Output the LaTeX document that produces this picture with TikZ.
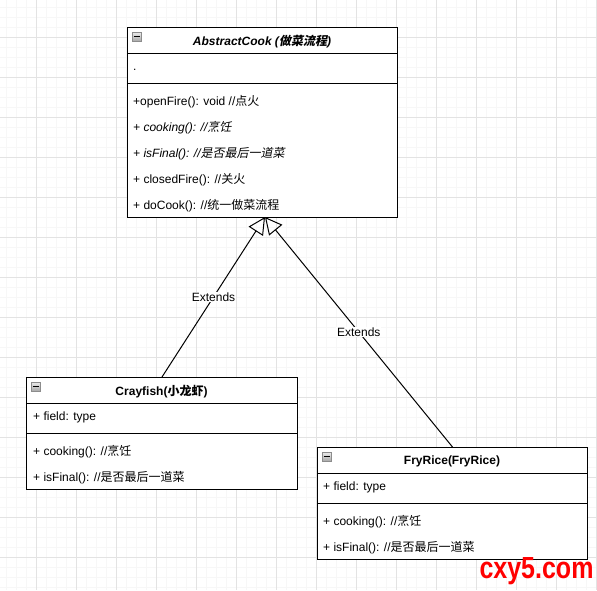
\documentclass[tikz,border=0pt]{standalone}
\usepackage{fontspec}
\usepackage{graphicx}
\setmainfont{Liberation Sans}
\newfontfamily\cjk{Noto Sans CJK SC}
\newfontfamily\cjkit{Noto Sans CJK SC}[FakeSlant=0.2]
\usetikzlibrary{arrows.meta,calc}
\begin{document}
\begin{tikzpicture}[x=1pt,y=-1pt,
  classbox/.style={draw=black,line width=1pt,fill=white,inner sep=0pt,anchor=north west,rectangle},
  sep/.style={draw=black,line width=1pt},
  mem/.style={anchor=west,inner sep=0pt,yshift=-1.5pt,font=\fontsize{12}{14}\selectfont},
  title/.style={anchor=center,inner sep=0pt,yshift=-1.5pt,font=\fontsize{12}{14}\selectfont\bfseries},
  icon/.style={draw=black!45,line width=0.6pt,top color=black!8,bottom color=black!35,minimum width=9pt,minimum height=9pt,inner sep=0pt,anchor=north west,rectangle},
  ext/.style={draw=black,line width=1pt,-{Triangle[open,length=17pt,width=17pt]}},
  lbl/.style={fill=white,inner sep=1pt,font=\fontsize{12}{14}\selectfont},
  minorgrid/.style={draw=black!3,line width=0.8pt},
  majorgrid/.style={draw=black!11,line width=0.8pt}
]
\useasboundingbox (0,0) rectangle (597,590);
\fill[white] (0,0) rectangle (597,590);
% grid
\foreach \gx in {6,16,...,596} {\draw[minorgrid] (\gx,0) -- (\gx,590);}
\foreach \gy in {7,17,...,587} {\draw[minorgrid] (0,\gy) -- (597,\gy);}
\foreach \gx in {36,76,...,596} {\draw[majorgrid] (\gx,0) -- (\gx,590);}
\foreach \gy in {37,77,...,577} {\draw[majorgrid] (0,\gy) -- (597,\gy);}

% AbstractCook
\node[classbox,minimum width=270pt,minimum height=190pt] (abs) at (127,27) {};
\draw[sep] (127,53) -- (397,53);
\draw[sep] (127,83) -- (397,83);
\node[icon] (absicon) at (132,32) {};
\draw[line width=1pt] ($(absicon.center)+(-3,0)$) -- ($(absicon.center)+(3,0)$);
\node[title] (abstitle) at (262,40) {\itshape AbstractCook ({\cjkit 做菜流程})};
\node[mem] (absattr) at (133,68) {.};
\node[mem] (m1) at (133,100) {+openFire(): void //{\cjk 点火}};
\node[mem] (m2) at (133,126) {\itshape + cooking(): //{\cjkit 烹饪}};
\node[mem] (m3) at (133,152) {\itshape + isFinal(): //{\cjkit 是否最后一道菜}};
\node[mem] (m4) at (133,178) {+ closedFire(): //{\cjk 关火}};
\node[mem] (m5) at (133,204) {+ doCook(): //{\cjk 统一做菜流程}};

% Crayfish
\node[classbox,minimum width=271pt,minimum height=112pt] (cray) at (26,377) {};
\draw[sep] (26,403) -- (297,403);
\draw[sep] (26,433) -- (297,433);
\node[icon] (crayicon) at (31,382) {};
\draw[line width=1pt] ($(crayicon.center)+(-3,0)$) -- ($(crayicon.center)+(3,0)$);
\node[title] (craytitle) at (161.5,390) {Crayfish({\cjk 小龙虾})};
\node[mem] (c1) at (33,416) {+ field: type};
\node[mem] (c2) at (33,450) {+ cooking(): //{\cjk 烹饪}};
\node[mem] (c3) at (33,476) {+ isFinal(): //{\cjk 是否最后一道菜}};

% FryRice
\node[classbox,minimum width=270pt,minimum height=112pt] (fry) at (317,447) {};
\draw[sep] (317,473) -- (587,473);
\draw[sep] (317,503) -- (587,503);
\node[icon] (fryicon) at (322,452) {};
\draw[line width=1pt] ($(fryicon.center)+(-3,0)$) -- ($(fryicon.center)+(3,0)$);
\node[title] (frytitle) at (452,460) {FryRice(FryRice)};
\node[mem] (f1) at (323,486) {+ field: type};
\node[mem] (f2) at (323,520) {+ cooking(): //{\cjk 烹饪}};
\node[mem] (f3) at (323,546) {+ isFinal(): //{\cjk 是否最后一道菜}};

% inheritance
\coordinate (tip) at (265,217);
\draw[ext] (cray.north) -- (tip) node[lbl,pos=0.5] (e1) {Extends};
\draw[ext] (fry.north) -- (tip) node[lbl,pos=0.5] (e2) {Extends};

% watermark
\node[anchor=base,inner sep=0pt,text=red,font=\fontsize{30.5}{31}\selectfont\bfseries] (wm) at (536.5,578) {\scalebox{0.82}[1]{cxy5.com}};
\end{tikzpicture}
\end{document}
